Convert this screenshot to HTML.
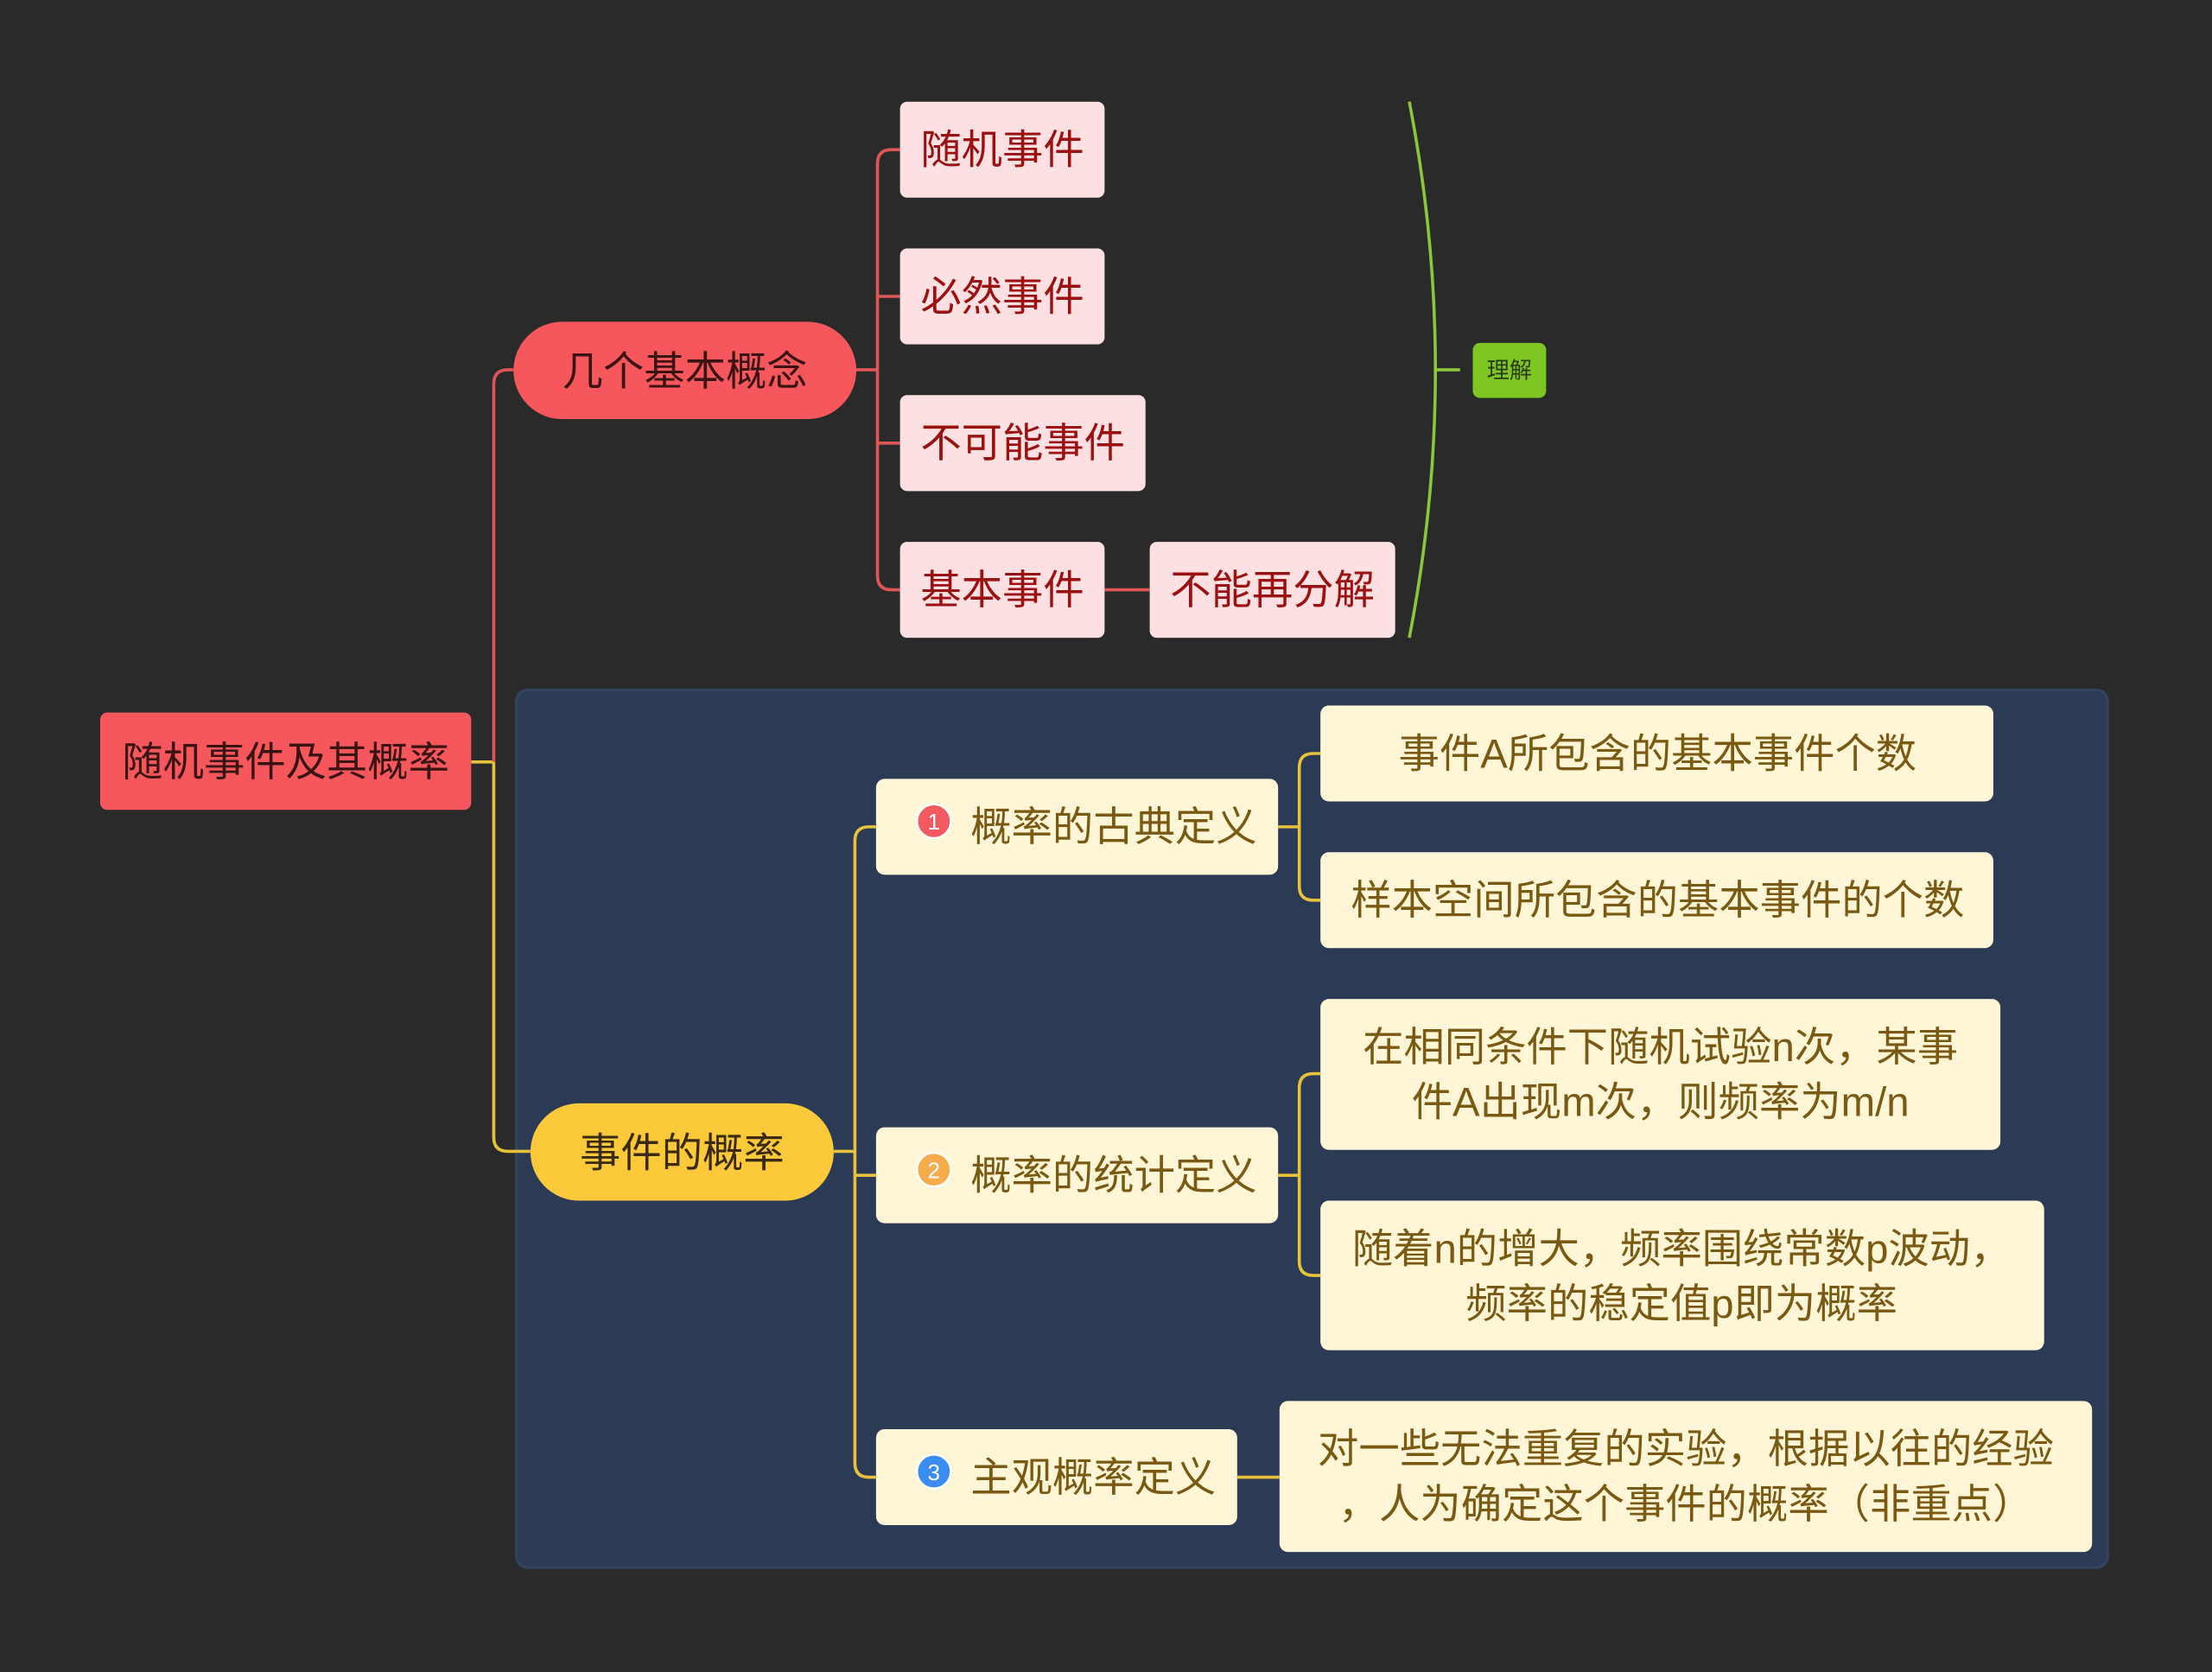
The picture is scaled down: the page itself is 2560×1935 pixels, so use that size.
<!DOCTYPE html>
<html><head><meta charset="utf-8"><style>
html,body{margin:0;padding:0;background:#2a2a2a;}
svg{display:block;}
text{font-family:"Liberation Sans","Noto Sans CJK SC",sans-serif;}
</style></head><body>
<svg width="2560" height="1935" viewBox="0 0 1568 1185" xmlns="http://www.w3.org/2000/svg">
<rect x="0" y="0" width="1568" height="1185" fill="#2a2a2a"/>
<rect x="366" y="489" width="1128" height="622" rx="8" fill="#2b3a55" stroke="#34445f" stroke-width="2"/>
<!-- connectors -->
<g fill="none" stroke-width="2.2">
<path d="M334 540 H350" stroke="#e8c23a"/>
<path d="M350 540 V272 Q350 262 360 262 H364" stroke="#e05555"/>
<path d="M350 540 V806 Q350 816 360 816 H376" stroke="#e8c23a"/>
<g stroke="#e05555">
<path d="M607 262 H622"/>
<path d="M638 106 H632 Q622 106 622 116 V408 Q622 418 632 418 H638"/>
<path d="M622 210 Q622 210 630 210 H638"/>
<path d="M622 314 H638"/>
<path d="M783 418 H815"/>
</g>
<g stroke="#e8c23a">
<path d="M591 816 H606"/>
<path d="M621 586 H616 Q606 586 606 596 V1037 Q606 1047 616 1047 H621"/>
<path d="M606 833 H621"/>
<path d="M906 586 H921"/>
<path d="M936 534 H931 Q921 534 921 544 V628 Q921 638 931 638 H936"/>
<path d="M906 833 H921"/>
<path d="M936 761 H931 Q921 761 921 771 V894 Q921 904 931 904 H936"/>
<path d="M877 1047 H907"/>
</g>
<path d="M999 72 Q1036 262 999 452" stroke="#8cc63a"/>
<path d="M1018 262 H1035" stroke="#8cc63a"/>
</g>
<!-- root -->
<rect x="71" y="505" width="263" height="69" rx="5" fill="#f5575c"/>
<text x="202.5" y="550" font-size="29" fill="#3a1414" text-anchor="middle">随机事件及其概率</text>
<!-- level1 -->
<rect x="364" y="228" width="243" height="69" rx="34.5" fill="#f5575c"/>
<text x="485.5" y="273" font-size="29" fill="#3a1414" text-anchor="middle">几个基本概念</text>
<rect x="376" y="782" width="215" height="69" rx="34.5" fill="#fcc93a"/>
<text x="483.5" y="827" font-size="29" fill="#3a2a10" text-anchor="middle">事件的概率</text>
<!-- pink -->
<g fill="#fde0e1">
<rect x="638" y="72" width="145" height="68" rx="5"/>
<rect x="638" y="176" width="145" height="68" rx="5"/>
<rect x="638" y="280" width="174" height="68" rx="5"/>
<rect x="638" y="384" width="145" height="68" rx="5"/>
<rect x="815" y="384" width="174" height="68" rx="5"/>
</g>
<g font-size="29" fill="#9b1010" text-anchor="middle">
<text x="710.5" y="116">随机事件</text>
<text x="710.5" y="220">必然事件</text>
<text x="725" y="324">不可能事件</text>
<text x="710.5" y="428">基本事件</text>
<text x="902" y="428">不能再分解</text>
</g>
<rect x="1044" y="243" width="52" height="39" rx="5" fill="#7ec722"/>
<text x="1070" y="268" font-size="16" fill="#2a3a10" text-anchor="middle">理解</text>
<!-- cream -->
<g fill="#fff6d8">
<rect x="621" y="552" width="285" height="68" rx="6"/>
<rect x="621" y="799" width="285" height="68" rx="6"/>
<rect x="621" y="1013" width="256" height="68" rx="6"/>
<rect x="936" y="500" width="477" height="68" rx="6"/>
<rect x="936" y="604" width="477" height="68" rx="6"/>
<rect x="936" y="708" width="482" height="107" rx="6"/>
<rect x="936" y="851" width="513" height="106" rx="6"/>
<rect x="907" y="993" width="576" height="107" rx="6"/>
</g>
<circle cx="662" cy="582" r="12" fill="#f25a5f" stroke="#fff" stroke-width="1.5"/>
<text x="662" y="588" font-size="16" fill="#fff" text-anchor="middle">1</text>
<circle cx="662" cy="829" r="12" fill="#f6ac4a" stroke="#fff" stroke-width="1.5"/>
<text x="662" y="835" font-size="16" fill="#fff" text-anchor="middle">2</text>
<circle cx="662" cy="1043" r="12" fill="#3b8cf0" stroke="#fff" stroke-width="1.5"/>
<text x="662" y="1049" font-size="16" fill="#fff" text-anchor="middle">3</text>
<g font-size="29" fill="#7a5a12">
<text x="688" y="596">概率的古典定义</text>
<text x="688" y="843">概率的统计定义</text>
<text x="688" y="1057">主观概率定义</text>
</g>
<g font-size="29" fill="#7a5a12" text-anchor="middle">
<text x="1175" y="544">事件A所包含的基本事件个数</text>
<text x="1175" y="648">样本空间所包含的基本事件的个数</text>
<text x="1177" y="752">在相同条件下随机试验n次，某事</text>
<text x="1177" y="791">件A出现m次，则频率为m/n</text>
<text x="1192" y="895">随着n的增大，频率围绕常数p波动，</text>
<text x="1192" y="934">频率的稳定值p即为概率</text>
<text x="1195" y="1037">对一些无法重复的实验，根据以往的经验</text>
<text x="1195" y="1076">，人为确定这个事件的概率（非重点）</text>
</g>
</svg>
</body></html>
